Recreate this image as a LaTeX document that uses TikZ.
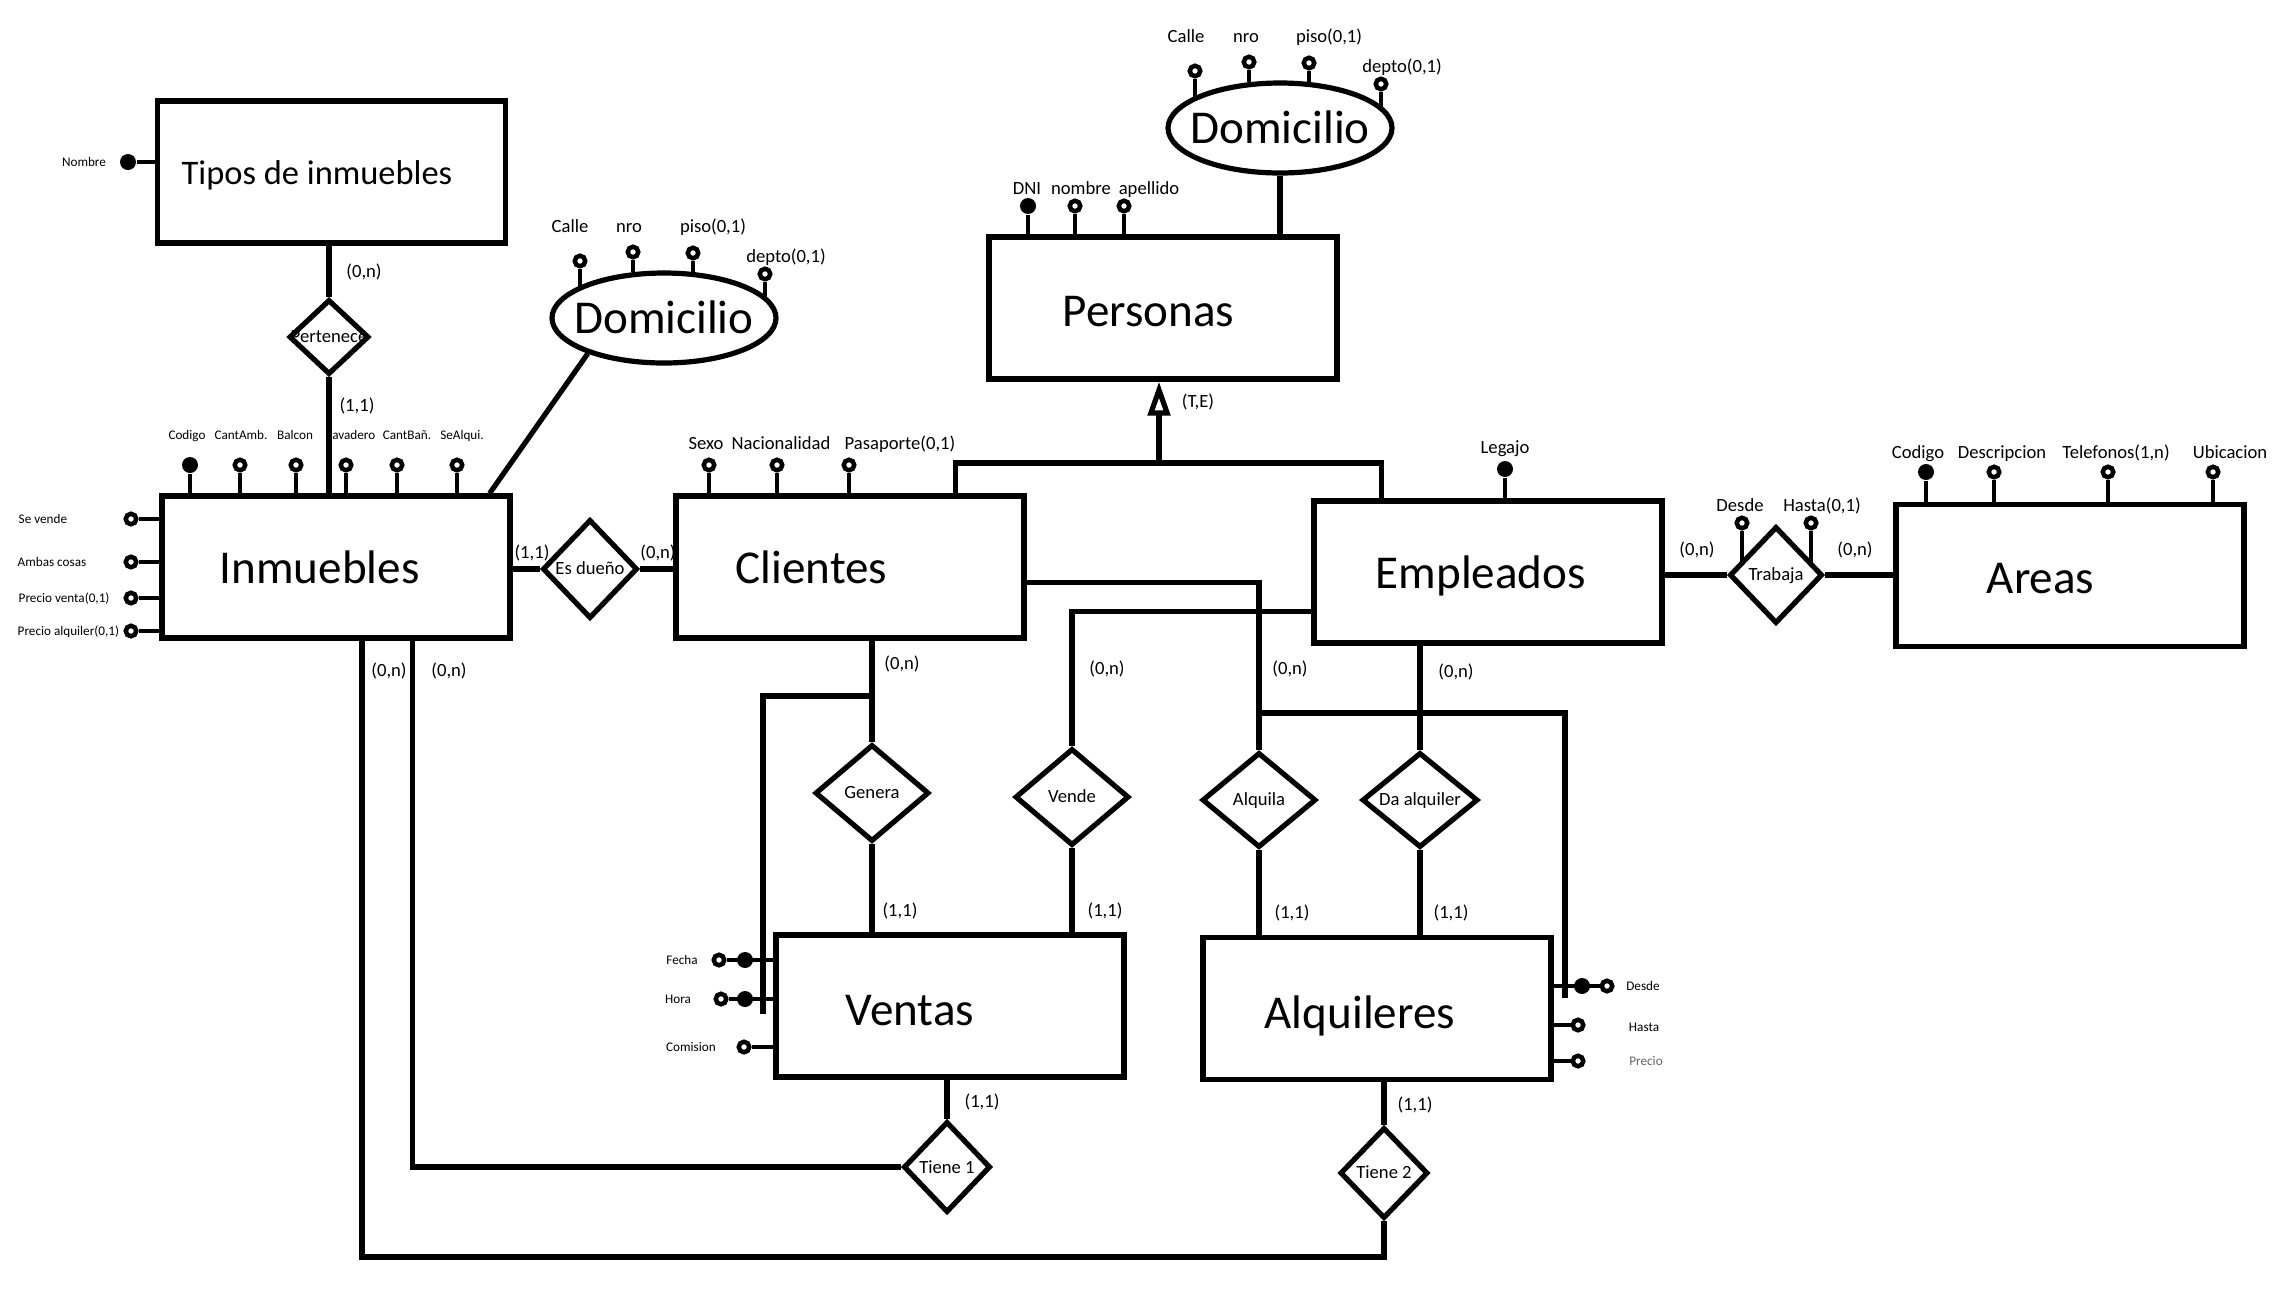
\documentclass[tikz,border=0pt]{standalone}
\usepackage{fontspec}
\setmainfont{Carlito}
\usetikzlibrary{shapes.geometric,arrows.meta,calc}

\newcommand\entfont{\fontsize{13.4pt}{16pt}\selectfont}
\newcommand\tipfont{\fontsize{9.8pt}{12pt}\selectfont}
\newcommand\medfont{\fontsize{5.3pt}{6.3pt}\selectfont}
\newcommand\smlfont{\fontsize{3.75pt}{4.4pt}\selectfont}

\pgfdeclarelayer{bg}
\pgfdeclarelayer{lines}
\pgfsetlayers{bg,lines,main}

\begin{document}
\begin{tikzpicture}[x=0.1mm,y=-0.1mm,
  entity/.style={draw, line width=0.52mm, rectangle, inner sep=0pt,
    minimum width=34.8mm, minimum height=14.2mm},
  ename/.style={anchor=base west, inner sep=0pt, font=\entfont},
  compattr/.style={draw, ellipse, line width=0.52mm, inner sep=0pt,
    minimum width=22.4mm, minimum height=9mm, font=\entfont,
    text height=8.6pt, text depth=0pt},
  rel/.style 2 args={draw, diamond, line width=0.52mm, inner sep=0pt,
    minimum width=#1, minimum height=#2, font=\medfont,
    text height=3.4pt, text depth=0pt},
  med/.style={inner sep=0pt, font=\medfont, text height=3.4pt, text depth=0pt},
  sml/.style={inner sep=0pt, font=\smlfont, text height=2.4pt, text depth=0pt},
  oattr/.style={circle, draw, fill=white, line width=0.45mm, minimum size=1.05mm, inner sep=0pt},
  fattr/.style={circle, fill=black, minimum size=1.6mm, inner sep=0pt},
  conn/.style={line width=0.52mm},
  stem/.style={line width=0.45mm}
]
\begin{pgfonlayer}{bg}
  \fill[white] (0,0) rectangle (2288,1306);
\end{pgfonlayer}
\useasboundingbox (0,0) rectangle (2288,1306);

% ---------- entities ----------
\node[entity] (tipos) at (331.5,172) {};
\node[ename, font=\tipfont] (tipos-t) at (181,184) {Tipos de inmuebles};
\node[entity] (inm) at (336,567) {};
\node[ename] (inm-t) at (219,583) {Inmuebles};
\node[entity] (cli) at (850,567) {};
\node[ename] (cli-t) at (735,583) {Clientes};
\node[entity] (per) at (1163,308) {};
\node[ename] (per-t) at (1062,326) {Personas};
\node[entity] (emp) at (1488,572) {};
\node[ename] (emp-t) at (1375,588) {Empleados};
\node[entity] (areas) at (2070,575.5) {};
\node[ename] (areas-t) at (1986,593) {Areas};
\node[entity] (ven) at (950,1006) {};
\node[ename] (ven-t) at (845,1025) {Ventas};
\node[entity] (alq) at (1377,1008.5) {};
\node[ename] (alq-t) at (1264,1028) {Alquileres};

% ---------- composite attributes ----------
\node[compattr] (dom1) at (664,318) {\makebox[0pt]{Domicilio}};
\node[compattr] (dom2) at (1280,128) {\makebox[0pt]{Domicilio}};

% ---------- relationships ----------
\node[rel={8mm}{7.5mm}]     (pert)    at (329,337)  {\makebox[0pt]{Pertenece}};
\node[rel={9.5mm}{9.9mm}]   (dueno)   at (590,569)  {\makebox[0pt]{Es dueño}};
\node[rel={9.3mm}{9.7mm}]   (trab)    at (1776,575) {\makebox[0pt]{Trabaja}};
\node[rel={11.4mm}{9.7mm}]  (genera)  at (872,793)  {\makebox[0pt]{Genera}};
\node[rel={11.4mm}{9.7mm}]  (vende)   at (1072,797) {\makebox[0pt]{Vende}};
\node[rel={11.4mm}{9.5mm}]  (alquila) at (1259,800) {\makebox[0pt]{Alquila}};
\node[rel={11.6mm}{9.5mm}]  (daalq)   at (1420,800) {\makebox[0pt]{Da alquiler}};
\node[rel={8.7mm}{9.1mm}]   (tiene1)  at (947,1167) {\makebox[0pt]{Tiene 1}};
\node[rel={8.8mm}{9.1mm}]   (tiene2)  at (1384,1173) {\makebox[0pt]{Tiene 2}};

% ---------- attribute markers ----------
% Tipos de inmuebles
\node[fattr] (t-nom) at (128,162) {};
% Inmuebles (top)
\node[fattr] (i-cod) at (190,465) {};
\node[oattr] (i-amb) at (240,465) {};
\node[oattr] (i-bal) at (296,465) {};
\node[oattr] (i-lav) at (346,465) {};
\node[oattr] (i-ban) at (397,465) {};
\node[oattr] (i-alq) at (457,465) {};
% Inmuebles (left)
\node[oattr] (i-sev) at (131,519) {};
\node[oattr] (i-amc) at (131,562) {};
\node[oattr] (i-pvt) at (131,598) {};
\node[oattr] (i-pal) at (131,631) {};
% Domicilio of Inmuebles
\node[oattr] (d1-cal) at (580,261) {};
\node[oattr] (d1-nro) at (633,252) {};
\node[oattr] (d1-pis) at (693,253) {};
\node[oattr] (d1-dep) at (765,274) {};
% Domicilio of Personas
\node[oattr] (d2-cal) at (1195,71) {};
\node[oattr] (d2-nro) at (1249,62) {};
\node[oattr] (d2-pis) at (1309,63) {};
\node[oattr] (d2-dep) at (1381,84) {};
% Personas
\node[fattr] (p-dni) at (1028,206) {};
\node[oattr] (p-nom) at (1075,206) {};
\node[oattr] (p-ape) at (1124,206) {};
% Clientes
\node[oattr] (c-sex) at (709,465) {};
\node[oattr] (c-nac) at (777,465) {};
\node[oattr] (c-pas) at (849,465) {};
% Empleados
\node[fattr] (e-leg) at (1505,469) {};
% Trabaja
\node[oattr] (w-des) at (1742,523) {};
\node[oattr] (w-has) at (1811,523) {};
% Areas
\node[fattr] (a-cod) at (1926,472) {};
\node[oattr] (a-des) at (1994,472) {};
\node[oattr] (a-tel) at (2108,472) {};
\node[oattr] (a-ubi) at (2213,472) {};
% Ventas
\node[oattr] (v-fe-o) at (719,960) {};
\node[fattr] (v-fe)   at (745,960) {};
\node[oattr] (v-ho-o) at (721,999) {};
\node[fattr] (v-ho)   at (745,999) {};
\node[oattr] (v-com)  at (744,1047) {};
% Alquileres
\node[fattr] (l-de)   at (1582,986) {};
\node[oattr] (l-de-o) at (1607,986) {};
\node[oattr] (l-ha)   at (1578,1025) {};
\node[oattr] (l-pr)   at (1578,1061) {};

% ---------- attribute names ----------
\node[sml] (n-nom) at (84,162) {Nombre};
\node[sml] at (187,435) {Codigo};
\node[sml] at (241,435) {CantAmb.};
\node[sml] at (295,435) {Balcon};
\node[sml] at (351,435) {Lavadero};
\node[sml] at (407,435) {CantBañ.};
\node[sml] at (462,435) {SeAlqui.};
\node[sml, anchor=west] at (18,519) {Se vende};
\node[sml, anchor=west] at (17,562) {Ambas cosas};
\node[sml, anchor=west] at (18,598) {Precio venta(0,1)};
\node[sml, anchor=west] at (17,631) {Precio alquiler(0,1)};
\node[med] at (570,227) {Calle};
\node[med] at (629,227) {nro};
\node[med] at (713,227) {piso(0,1)};
\node[med] at (786,257) {depto(0,1)};
\node[med] at (1186,37) {Calle};
\node[med] at (1246,37) {nro};
\node[med] at (1329,37) {piso(0,1)};
\node[med] at (1402,67) {depto(0,1)};
\node[med] at (1027,189) {DNI};
\node[med] at (1081,189) {nombre};
\node[med] at (1149,189) {apellido};
\node[med] at (706,444) {Sexo};
\node[med] at (781,444) {Nacionalidad};
\node[med] at (900,444) {Pasaporte(0,1)};
\node[med] at (1505,448) {Legajo};
\node[med] at (1740,506) {Desde};
\node[med] at (1822,506) {Hasta(0,1)};
\node[med] at (1918,453) {Codigo};
\node[med] at (2002,453) {Descripcion};
\node[med] at (2116,453) {Telefonos(1,n)};
\node[med] at (2230,453) {Ubicacion};
\node[sml] at (682,960) {Fecha};
\node[sml] at (678,999) {Hora};
\node[sml] at (691,1047) {Comision};
\node[sml] at (1643,986) {Desde};
\node[sml] at (1644,1027) {Hasta};
\node[sml, text=black!60] at (1646,1061) {Precio};

% ---------- cardinalities ----------
\node[med] at (364,272) {(0,n)};
\node[med] at (357,406) {(1,1)};
\node[med] at (532,553) {(1,1)};
\node[med] at (658,553) {(0,n)};
\node[med] at (389,671) {(0,n)};
\node[med] at (449,671) {(0,n)};
\node[med] at (902,664) {(0,n)};
\node[med] at (1107,669) {(0,n)};
\node[med] at (1290,669) {(0,n)};
\node[med] at (1456,672) {(0,n)};
\node[med] at (900,911) {(1,1)};
\node[med] at (1105,911) {(1,1)};
\node[med] at (1292,913) {(1,1)};
\node[med] at (1451,913) {(1,1)};
\node[med] at (982,1102) {(1,1)};
\node[med] at (1415,1105) {(1,1)};
\node[med] at (1198,402) {(T,E)};
\node[med] at (1697,550) {(0,n)};
\node[med] at (1855,550) {(0,n)};

% ---------- junction points ----------
\coordinate (gen)   at (1159,463);
\coordinate (gj)    at (872,696);
\coordinate (fhend) at (763,1014);
\coordinate (aj)    at (1259,713);
\coordinate (dsend) at (1565,998);
\coordinate (lowc)  at (362,1257);

\begin{pgfonlayer}{lines}
  % attribute stems
  \draw[stem] (t-nom) -- (t-nom -| tipos.west);
  \foreach \a in {i-cod,i-amb,i-bal,i-lav,i-ban,i-alq}
    \draw[stem] (\a) -- (\a |- inm.north);
  \foreach \a in {i-sev,i-amc,i-pvt,i-pal}
    \draw[stem] (\a) -- (\a -| inm.west);
  \draw[stem] (d1-cal) -- (d1-cal |- dom1.160.3);
  \draw[stem] (d1-nro) -- (d1-nro |- dom1.125.8);
  \draw[stem] (d1-pis) -- (d1-pis |- dom1.56.3);
  \draw[stem] (d1-dep) -- (d1-dep |- dom1.10.9);
  \draw[stem] (d2-cal) -- (d2-cal |- dom2.161.4);
  \draw[stem] (d2-nro) -- (d2-nro |- dom2.126.2);
  \draw[stem] (d2-pis) -- (d2-pis |- dom2.55.7);
  \draw[stem] (d2-dep) -- (d2-dep |- dom2.10.7);
  \foreach \a in {p-dni,p-nom,p-ape}
    \draw[stem] (\a) -- (\a |- per.north);
  \foreach \a in {c-sex,c-nac,c-pas}
    \draw[stem] (\a) -- (\a |- cli.north);
  \draw[stem] (e-leg) -- (e-leg |- emp.north);
  \draw[stem] (w-des) -- (w-des |- trab.159);
  \draw[stem] (w-has) -- (w-has |- trab.19);
  \foreach \a in {a-cod,a-des,a-tel,a-ubi}
    \draw[stem] (\a) -- (\a |- areas.north);
  \foreach \a in {v-fe-o,v-ho-o,v-com}
    \draw[stem] (\a) -- (\a -| ven.west);
  \foreach \a in {l-de-o,l-ha,l-pr}
    \draw[stem] (\a) -- (\a -| alq.east);

  % composite attributes to their entities
  \draw[conn] (dom1.205.9) -- ($(inm.north east)+(-23,0)$);
  \draw[conn] (dom2.south) -- (dom2.south |- per.north);

  % generalisation of Personas
  \draw[conn] ($(cli.north west)+(282,0)$) |- (gen) -| ($(emp.north west)+(70,0)$);
  \draw[conn, -{Triangle[open, length=3.4mm, width=2.2mm]}] (gen) -- (gen |- per.south);

  % relationships
  \draw[conn] (pert.north |- tipos.south) -- (pert.north);
  \draw[conn] (pert.south) -- (pert.south |- inm.north);
  \draw[conn] (dueno.west -| inm.east) -- (dueno.west);
  \draw[conn] (dueno.east) -- (dueno.east -| cli.west);
  \draw[conn] (trab.west -| emp.east) -- (trab.west);
  \draw[conn] (trab.east) -- (trab.east -| areas.west);
  \draw[conn] (genera.north |- cli.south) -- (genera.north);
  \draw[conn] (gj) -| (fhend);
  \draw[conn] (genera.south) -- (genera.south |- ven.north);
  \draw[conn] ($(emp.north west)+(0,113)$) -| (vende.north);
  \draw[conn] (vende.south) -- (vende.south |- ven.north);
  \draw[conn] ($(cli.north east)+(0,89)$) -| (alquila.north);
  \draw[conn] (aj) -| (dsend);
  \draw[conn] (alquila.south) -- (alquila.south |- alq.north);
  \draw[conn] (daalq.north |- emp.south) -- (daalq.north);
  \draw[conn] (daalq.south) -- (daalq.south |- alq.north);
  \draw[conn] (tiene1.north |- ven.south) -- (tiene1.north);
  \draw[conn] (tiene1.west) -| ($(inm.south west)+(253,0)$);
  \draw[conn] (tiene2.north |- alq.south) -- (tiene2.north);
  \draw[conn] (tiene2.south) |- (lowc) -- (lowc |- inm.south);
\end{pgfonlayer}
\end{tikzpicture}
\end{document}
